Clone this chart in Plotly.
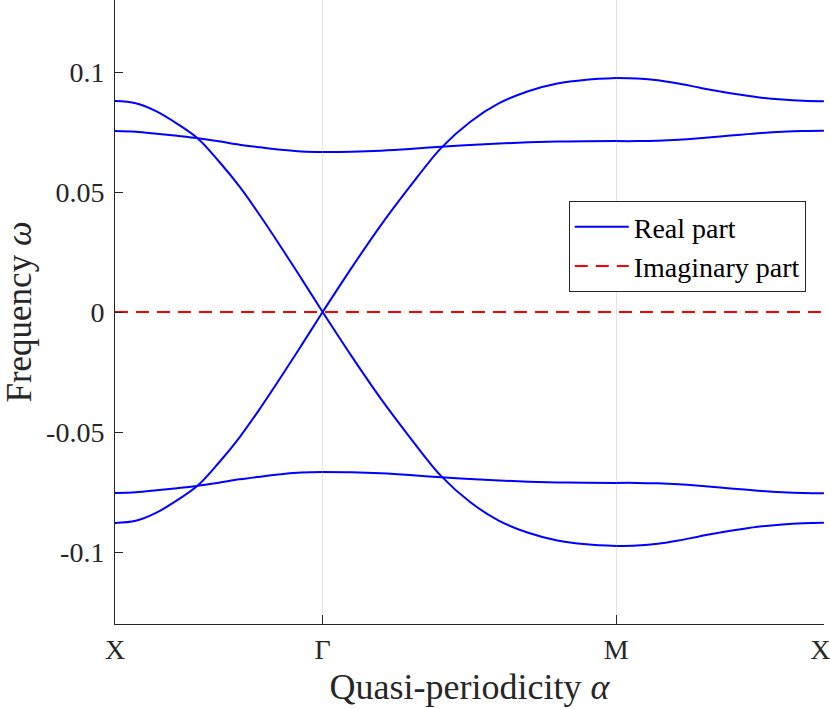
import plotly.graph_objects as go

# ---- data ----
# path coordinate along X -> Gamma -> M -> X
tick_vals = [0, 1, 2.414, 3.414]
tick_text = ["X", "Γ", "M", "X\u2005"]

s_xg = [0, 0.1, 0.2, 0.3, 0.4, 0.5, 0.6, 0.7, 0.8, 0.9, 1.0]
s_gm = [1.0, 1.14, 1.28, 1.42, 1.57, 1.71, 1.85, 1.99, 2.13, 2.27, 2.414]
s_mx = [2.414, 2.514, 2.614, 2.714, 2.814, 2.914, 3.014, 3.114, 3.214, 3.314, 3.414]

# upper "acoustic-like" branch
a_up_xg = [0.0879, 0.0870, 0.0836, 0.0784, 0.0722, 0.0628, 0.0522, 0.0400, 0.0270, 0.0136, 0.0]
a_up_gm = [0.0, 0.0185, 0.0361, 0.0522, 0.0683, 0.0792, 0.0870, 0.0920, 0.0952, 0.0968, 0.0975]
a_up_mx = [0.0975, 0.0973, 0.0966, 0.0952, 0.0935, 0.0919, 0.0905, 0.0893, 0.0885, 0.0880, 0.0878]
# upper flat branch
b_up_xg = [0.0754, 0.0751, 0.0743, 0.0734, 0.0724, 0.0711, 0.0697, 0.0686, 0.0676, 0.0669, 0.0667]
b_up_gm = [0.0667, 0.0668, 0.0672, 0.0679, 0.0689, 0.0696, 0.0702, 0.0707, 0.0710, 0.0711, 0.0712]
b_up_mx = [0.0712, 0.0712, 0.0714, 0.0718, 0.0724, 0.0731, 0.0739, 0.0746, 0.0751, 0.0754, 0.0755]
# lower branches
a_lo_xg = [-0.0879, -0.0870, -0.0836, -0.0784, -0.0722, -0.0628, -0.0522, -0.0400, -0.0270, -0.0136, 0.0]
a_lo_gm = [0.0, -0.0185, -0.0361, -0.0522, -0.0683, -0.0792, -0.0870, -0.0920, -0.0952, -0.0968, -0.0975]
a_lo_mx = [-0.0975, -0.0973, -0.0966, -0.0952, -0.0935, -0.0919, -0.0905, -0.0893, -0.0885, -0.0880, -0.0878]
b_lo_xg = [-0.0754, -0.0751, -0.0743, -0.0734, -0.0724, -0.0711, -0.0697, -0.0686, -0.0676, -0.0669, -0.0667]
b_lo_gm = [-0.0667, -0.0668, -0.0672, -0.0679, -0.0689, -0.0696, -0.0702, -0.0707, -0.0710, -0.0711, -0.0712]
b_lo_mx = [-0.0712, -0.0712, -0.0714, -0.0718, -0.0724, -0.0731, -0.0739, -0.0746, -0.0751, -0.0754, -0.0755]

# imaginary part (zero everywhere)
s_imag = [0, 3.414]
imag_vals = [0.0, 0.0]

y_tick_vals = [-0.1, -0.05, 0, 0.05, 0.1]
y_tick_text = ["-0.1", "-0.05", "0", "0.05", "0.1"]

FONT = "Liberation Serif"
BLUE = "#0000ff"
RED = "#ff0000"
AXC = "#262626"

fig = go.Figure()

segments = [
    (s_xg, a_up_xg), (s_gm, a_up_gm), (s_mx, a_up_mx),
    (s_xg, b_up_xg), (s_gm, b_up_gm), (s_mx, b_up_mx),
    (s_xg, a_lo_xg), (s_gm, a_lo_gm), (s_mx, a_lo_mx),
    (s_xg, b_lo_xg), (s_gm, b_lo_gm), (s_mx, b_lo_mx),
]
for i, (sx, sy) in enumerate(segments):
    fig.add_trace(go.Scatter(
        x=sx, y=sy, mode="lines",
        line=dict(color=BLUE, width=2, shape="spline", smoothing=1.0),
        name="Real part", legendgroup="re", showlegend=(i == 0),
    ))

fig.add_trace(go.Scatter(
    x=s_imag, y=imag_vals, mode="lines",
    line=dict(color=RED, width=2, dash="13px,8px"),
    name="Imaginary part", showlegend=True,
))

fig.update_layout(
    width=830, height=709,
    margin=dict(l=115, r=6, t=0, b=85),
    paper_bgcolor="white", plot_bgcolor="white",
    font=dict(family=FONT, size=28, color=AXC),
    showlegend=True,
    legend=dict(
        x=0.640, y=0.678, xanchor="left", yanchor="top",
        bgcolor="white", bordercolor=AXC, borderwidth=1,
        font=dict(family=FONT, size=28, color="black"),
        tracegroupgap=0, itemwidth=54,
    ),
    xaxis=dict(
        range=[0, 3.4145], tickmode="array", tickvals=tick_vals, ticktext=tick_text,
        automargin=False, ticklabeloverflow="allow",
        showgrid=True, gridcolor="#e3e3e3", gridwidth=1, zeroline=False,
        showline=True, linecolor=AXC, linewidth=1, mirror=False,
        ticks="inside", ticklen=9, tickcolor=AXC, tickwidth=1,
        tickfont=dict(family=FONT, size=28, color=AXC),
        title=dict(text="Quasi-periodicity <i>α</i>", font=dict(family=FONT, size=36, color=AXC), standoff=10),
    ),
    yaxis=dict(
        range=[-0.13, 0.13], tickmode="array", tickvals=y_tick_vals, ticktext=y_tick_text,
        automargin=False,
        showgrid=False, zeroline=False,
        showline=True, linecolor=AXC, linewidth=1, mirror=False,
        ticks="inside", ticklen=8, tickcolor=AXC, tickwidth=1,
        tickfont=dict(family=FONT, size=28, color=AXC),
        ticklabelstandoff=4,
        title=dict(text="Frequency <i>ω</i>", font=dict(family=FONT, size=35, color=AXC), standoff=12),
    ),
)

fig.write_html(
    "out.html",
    config={"displayModeBar": False},
    post_script="document.body.style.margin='0';document.body.style.overflow='hidden';",
)
